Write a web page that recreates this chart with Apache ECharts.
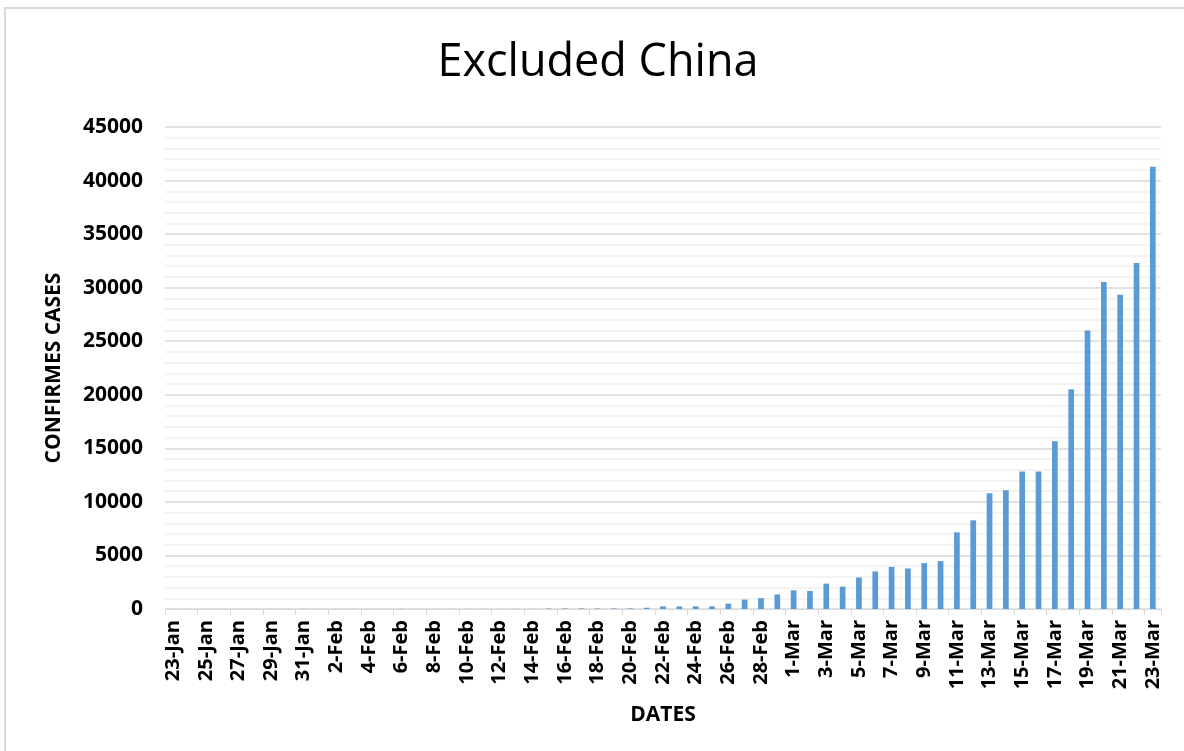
<!DOCTYPE html>
<html>
<head>
<meta charset="utf-8">
<script src="https://cdn.jsdelivr.net/npm/echarts@6/dist/echarts.min.js"></script>
<style>
  html, body { margin: 0; padding: 0; background: #fff; }
  #chart { width: 1184px; height: 751px; }
</style>
</head>
<body>
<div id="chart"></div>
<script>
// Daily confirmed cases outside China, 23 Jan – 23 Mar
const dates = [
  '23-Jan','24-Jan','25-Jan','26-Jan','27-Jan','28-Jan','29-Jan','30-Jan','31-Jan',
  '1-Feb','2-Feb','3-Feb','4-Feb','5-Feb','6-Feb','7-Feb','8-Feb','9-Feb','10-Feb',
  '11-Feb','12-Feb','13-Feb','14-Feb','15-Feb','16-Feb','17-Feb','18-Feb','19-Feb',
  '20-Feb','21-Feb','22-Feb','23-Feb','24-Feb','25-Feb','26-Feb','27-Feb','28-Feb','29-Feb',
  '1-Mar','2-Mar','3-Mar','4-Mar','5-Mar','6-Mar','7-Mar','8-Mar','9-Mar','10-Mar',
  '11-Mar','12-Mar','13-Mar','14-Mar','15-Mar','16-Mar','17-Mar','18-Mar','19-Mar',
  '20-Mar','21-Mar','22-Mar','23-Mar'
];
const cases = [
  4, 3, 6, 9, 7, 8, 12, 10, 14,
  8, 10, 12, 9, 11, 15, 10, 8, 12, 10,
  9, 8, 14, 12, 40, 45, 50, 45, 50,
  60, 120, 250, 250, 250, 250, 500, 880, 1010, 1360,
  1740, 1680, 2370, 2090, 2940, 3510, 3930, 3780, 4280, 4470,
  7160, 8280, 10810, 11090, 12840, 12840, 15670, 20520, 25990,
  30540, 29350, 32310, 41280
];
const yTicks = { min: 0, max: 45000, interval: 5000 };

const FONT = '"Open Sans", "Liberation Sans", sans-serif';
const chart = echarts.init(document.getElementById('chart'), null, { renderer: 'canvas' });

chart.setOption({
  backgroundColor: '#ffffff',
  animation: false,
  graphic: [{
    type: 'rect',
    shape: { x: 5, y: 8, width: 1200, height: 800 },
    style: { fill: 'none', stroke: '#d9d9d9', lineWidth: 2 },
    silent: true
  }, {
    type: 'text',
    x: 598, y: 63,
    style: {
      text: 'Excluded China',
      fill: '#000',
      font: 'normal 45px ' + FONT,
      textAlign: 'center',
      textVerticalAlign: 'middle'
    },
    silent: true
  }],
  grid: { left: 165, right: 23, top: 127, bottom: 142, containLabel: false },
  xAxis: {
    type: 'category',
    data: dates,
    name: 'DATES',
    nameLocation: 'middle',
    nameGap: 96,
    nameTextStyle: { fontFamily: FONT, fontSize: 21, fontWeight: 'bold', color: '#000' },
    axisLine: { lineStyle: { color: '#d9d9d9', width: 1 } },
    axisTick: { show: true, interval: 1, length: 6, lineStyle: { color: '#d9d9d9' } },
    axisLabel: {
      interval: 1, rotate: 90, margin: 11,
      fontFamily: FONT, fontSize: 20, fontWeight: 'bold', color: '#000'
    },
    splitLine: { show: false }
  },
  yAxis: {
    type: 'value',
    min: yTicks.min, max: yTicks.max, interval: yTicks.interval,
    name: 'CONFIRMES CASES',
    nameLocation: 'middle',
    nameGap: 100,
    nameTextStyle: { fontFamily: FONT, fontSize: 21, fontWeight: 'bold', color: '#000' },
    axisLine: { show: false },
    axisTick: { show: false },
    axisLabel: {
      margin: 22, fontFamily: FONT, fontSize: 21, fontWeight: 'bold', color: '#000',
      formatter: v => String(v)
    },
    splitLine: { lineStyle: { color: '#d9d9d9', width: 1.5 } },
    minorTick: { show: false, splitNumber: 5 },
    minorSplitLine: { show: true, lineStyle: { color: '#efefef', width: 1.5 } }
  },
  series: [{
    type: 'bar',
    data: cases,
    barWidth: '35%',
    itemStyle: { color: '#5b9bd5' }
  }]
});
</script>
</body>
</html>
